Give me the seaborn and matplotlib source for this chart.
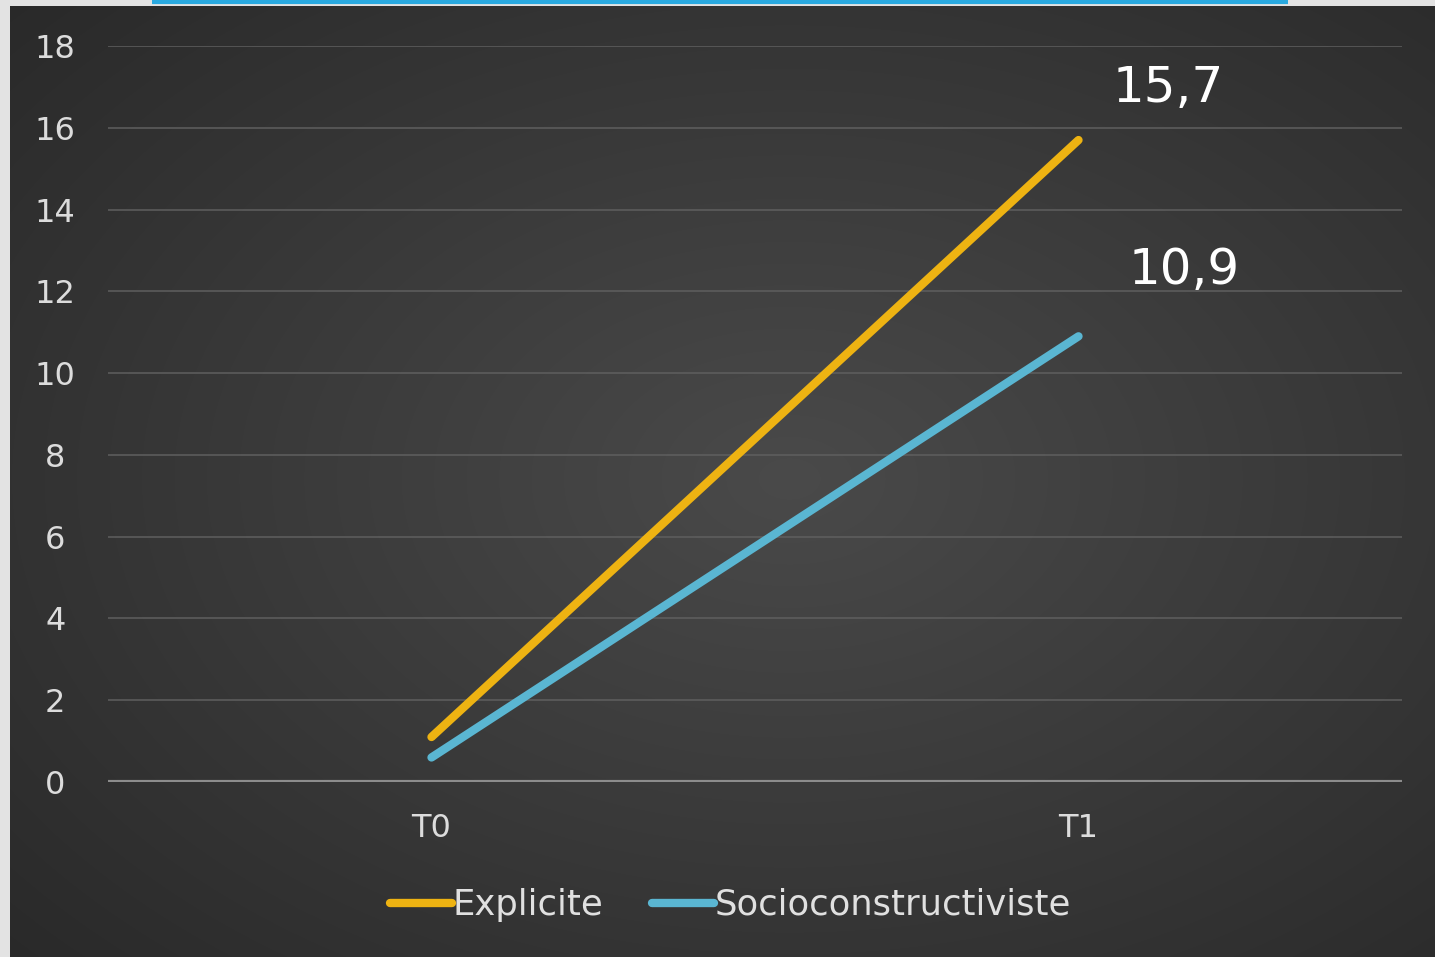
import numpy as np
import pandas as pd
import matplotlib
matplotlib.use("Agg")
import matplotlib.pyplot as plt
import seaborn as sns

# ---- data ----
times = ["T0", "T1"]
explicite = [1.1, 15.7]
socio = [0.6, 10.9]
series_names = ["Explicite", "Socioconstructiviste"]
end_labels = ["15,7", "10,9"]
yticks = [0, 2, 4, 6, 8, 10, 12, 14, 16, 18]

df = pd.DataFrame({
    "temps": times * 2,
    "score": explicite + socio,
    "groupe": [series_names[0]] * 2 + [series_names[1]] * 2,
})

sns.set_theme(style="dark")
plt.rcParams["font.family"] = ["DejaVu Sans"]

W, H = 1435, 957
fig = plt.figure(figsize=(W / 100, H / 100), dpi=100)

# background with radial gradient
bg = fig.add_axes([0, 0, 1, 1], zorder=-10)
yy, xx = np.mgrid[0:H, 0:W]
cx, cy = 0.55 * W, 0.5 * H
r = np.sqrt(((xx - cx) / (0.75 * W)) ** 2 + ((yy - cy) / (0.75 * H)) ** 2)
val = np.clip(0.29 - 0.13 * r, 0.16, 0.29)
img = np.dstack([val, val, val])
bg.imshow(img, extent=[0, W, H, 0], aspect="auto", interpolation="bilinear")
bg.set_xlim(0, W)
bg.set_ylim(H, 0)
bg.axis("off")
# light frame strips
bg.add_patch(plt.Rectangle((0, 0), 10, H, color="#e3e3e3", lw=0))
bg.add_patch(plt.Rectangle((0, 0), W, 6, color="#e3e3e3", lw=0))
bg.plot([152, 1288], [2, 2], color="#29a9e0", lw=3, solid_capstyle="butt")

ax = fig.add_axes([108 / W, 1 - 782 / H, (1402 - 108) / W, (782 - 46) / H])
ax.patch.set_alpha(0)

palette = {series_names[0]: "#eeb312", series_names[1]: "#5ab6d2"}
sns.lineplot(data=df, x="temps", y="score", hue="groupe", palette=palette,
             lw=6, ax=ax, legend=True, solid_capstyle="round", sort=False)

ax.set_xlim(-0.5, 1.5)
ax.set_ylim(0, 18)
ax.set_yticks(yticks)
ax.set_yticklabels([str(v) for v in yticks])
ax.set_xlabel("")
ax.set_ylabel("")
for s in ax.spines.values():
    s.set_visible(False)
ax.grid(False)
for v in yticks[1:]:
    ax.axhline(v, color="#5f5f5f", lw=1.1, zorder=0)
ax.axhline(0, color="#8c8c8c", lw=3, zorder=0)

ax.tick_params(axis="y", colors="#dcdcdc", labelsize=23, length=0, pad=38)
ax.tick_params(axis="x", colors="#dcdcdc", labelsize=23, length=0, pad=22)
plt.setp(ax.get_yticklabels(), ha="center")

# end labels
for val_end, txt, dx, dy in [(explicite[1], end_labels[0], 0.138, 1.27),
                              (socio[1], end_labels[1], 0.164, 1.62)]:
    ax.text(1 + dx, val_end + dy, txt, color="white", fontsize=36,
            ha="center", va="center")

leg = ax.legend(loc="center", bbox_to_anchor=(0.481, -0.167), ncol=2,
                frameon=False, fontsize=25.5, handlelength=1.75, handletextpad=0.0,
                columnspacing=1.4, labelcolor="#e0e0e0")
for h in leg.get_lines():
    h.set_linewidth(6)

fig.savefig("out.png", dpi=100)
